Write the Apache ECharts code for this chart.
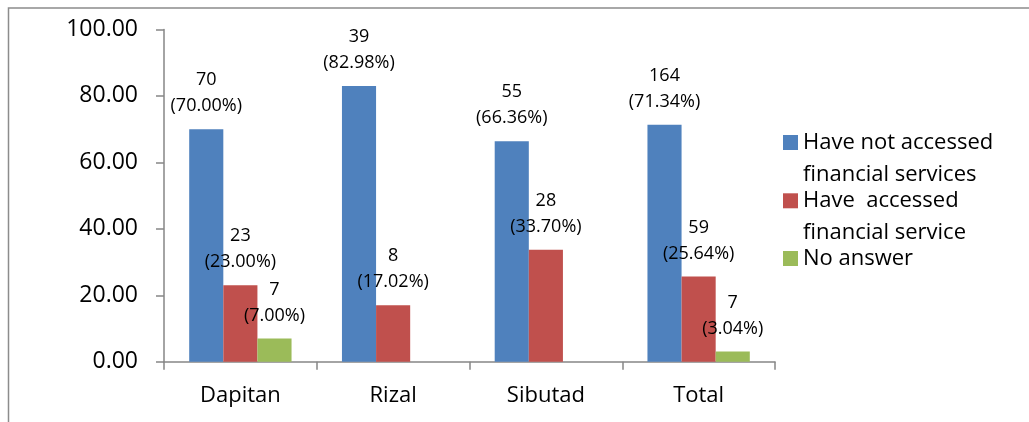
<!DOCTYPE html>
<html>
<head>
<meta charset="utf-8">
<script src="https://cdn.jsdelivr.net/npm/echarts@6/dist/echarts.min.js"></script>
<style>
  html, body { margin: 0; padding: 0; background: #fff; }
  #chart { width: 1029px; height: 422px; }
</style>
</head>
<body>
<div id="chart"></div>
<script>
// Municipalities surveyed, plus the overall total
const categories = ['Dapitan', 'Rizal', 'Sibutad', 'Total'];

// Series names as shown in the legend
const seriesNames = [
  'Have not accessed\nfinancial services',
  'Have  accessed\nfinancial service',
  'No answer'
];

// Percent of respondents (bar heights) and respondent counts (labels)
const notAccessedPct   = [70.00, 82.98, 66.36, 71.34];
const notAccessedCount = [70, 39, 55, 164];
const accessedPct      = [23.00, 17.02, 33.70, 25.64];
const accessedCount    = [23, 8, 28, 59];
const noAnswerPct      = [7.00, null, null, 3.04];
const noAnswerCount    = [7, null, null, 7];

// Value-axis tick values
const yTickValues = [0, 20, 40, 60, 80, 100];

const FONT = '"Open Sans", "Noto Sans", sans-serif';
const AXIS_GREY = '#868686';
const colors = ['#4F81BD', '#C0504D', '#9BBB59'];

const pctSets = [notAccessedPct, accessedPct, noAnswerPct];
const countSets = [notAccessedCount, accessedCount, noAnswerCount];

// Each legend entry sits on its own; two-line entries get a blank line on
// top so the colour key lines up with the first line of text.
const legendTops = [94.5, 152.8, 242.5];

const chart = echarts.init(document.getElementById('chart'), null, { renderer: 'canvas' });

chart.setOption({
  animation: false,
  backgroundColor: '#fff',
  textStyle: { fontFamily: FONT },
  color: colors,
  grid: { left: 164, right: 254, top: 29.5, bottom: 60.3, containLabel: false },
  graphic: [{
    type: 'polyline',
    shape: { points: [[8.5, 422], [8.5, 8], [1029, 8]] },
    style: { stroke: '#8c8c8c', lineWidth: 1.5, fill: null },
    silent: true
  }],
  legend: seriesNames.map((name, i) => {
    const twoLine = name.indexOf('\n') >= 0;
    return {
      data: [name],
      orient: 'vertical',
      left: 783,
      top: legendTops[i],
      padding: 0,
      itemWidth: 15,
      itemHeight: 15,
      itemGap: 0,
      icon: 'rect',
      selectedMode: false,
      formatter: n => (twoLine ? ' \n' + n : n),
      textStyle: {
        fontFamily: FONT,
        fontSize: 22,
        lineHeight: 32,
        color: '#000'
      }
    };
  }),
  xAxis: {
    type: 'category',
    data: categories,
    axisLine: { lineStyle: { color: AXIS_GREY, width: 1.5 } },
    axisTick: { show: true, length: 8, lineStyle: { color: AXIS_GREY, width: 1.5 } },
    axisLabel: { color: '#000', fontFamily: FONT, fontSize: 22, lineHeight: 22, margin: 23 }
  },
  yAxis: {
    type: 'value',
    min: yTickValues[0],
    max: yTickValues[yTickValues.length - 1],
    interval: yTickValues[1] - yTickValues[0],
    axisLine: { show: true, lineStyle: { color: AXIS_GREY, width: 1.5 } },
    axisTick: { show: true, length: 8, lineStyle: { color: AXIS_GREY, width: 1.5 } },
    splitLine: { show: false },
    axisLabel: {
      color: '#000', fontFamily: FONT, fontSize: 23, margin: 26,
      formatter: v => v.toFixed(2)
    }
  },
  series: seriesNames.map((name, s) => ({
    name: name,
    type: 'bar',
    data: pctSets[s],
    barGap: '0%',
    barCategoryGap: '33%',
    itemStyle: { color: colors[s] },
    label: {
      show: true,
      position: 'top',
      distance: 10,
      color: '#000',
      fontFamily: FONT,
      fontSize: 18,
      lineHeight: 26,
      formatter: p => countSets[s][p.dataIndex] + '\n(' + p.value.toFixed(2) + '%)'
    }
  }))
});
</script>
</body>
</html>
